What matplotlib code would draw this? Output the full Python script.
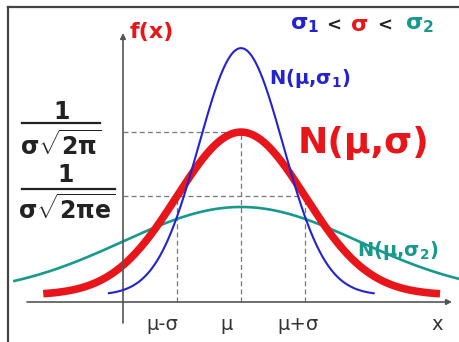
import numpy as np
import matplotlib
matplotlib.use("Agg")
import matplotlib.pyplot as plt
from matplotlib.lines import Line2D

plt.rcParams['font.family'] = ['DejaVu Sans']
plt.rcParams['mathtext.fontset'] = 'custom'
plt.rcParams['mathtext.rm'] = 'DejaVu Sans:bold'
plt.rcParams['mathtext.it'] = 'DejaVu Sans:bold'
plt.rcParams['mathtext.bf'] = 'DejaVu Sans:bold'

# ---- data ----
mu = 0.0
curve_names = [r"N(μ,$\sigma_1$)", "N(μ,σ)", r"N(μ,$\sigma_2$)"]
curve_sigmas = [0.66, 1.0, 1.85]          # σ1 < σ < σ2
curve_x_start = [-2.08, -3.09, -3.56]     # where each drawn curve begins
curve_x_end = [2.09, 3.11, 3.41]          # where each drawn curve ends
curve_offset = 0.017                      # curves sit slightly above the x axis
tick_labels = ["μ-σ", "μ", "μ+σ", "x"]

BLUE = "#2323d2"
RED = "#e8161a"
TEAL = "#17998c"
AXC = "#555555"

W, H = 459, 342
fig = plt.figure(figsize=(W / 100, H / 100), dpi=100)
ax = fig.add_axes([0, 0, 1, 1])
ax.axis("off")
# pixel mapping: x_px = 241 + 64*x ; y_px = 302 - 408.5*y
ax.set_xlim((0 - 241) / 64, (W - 241) / 64)
ax.set_ylim((302 - H) / 408.5, (302 - 0) / 408.5)


def fx(px):
    return px / W


def fy(py):
    return 1 - py / H


def pdf(x, s):
    return np.exp(-0.5 * ((x - mu) / s) ** 2) / (s * np.sqrt(2 * np.pi))


# frame
fig.add_artist(Line2D([fx(8), fx(8)], [fy(7), fy(342)], color="#444444", lw=1.6))
fig.add_artist(Line2D([fx(8), fx(459)], [fy(7), fy(7)], color="#444444", lw=1.6))

# axes with arrows
yaxis_x = (123 - 241) / 64
ax.annotate("", xy=(yaxis_x, (302 - 33) / 408.5), xytext=(yaxis_x, (302 - 323) / 408.5),
            arrowprops=dict(arrowstyle="-|>", color=AXC, lw=1.2, mutation_scale=8,
                            shrinkA=0, shrinkB=0))
ax.annotate("", xy=((452 - 241) / 64, 0), xytext=((27 - 241) / 64, 0),
            arrowprops=dict(arrowstyle="-|>", color=AXC, lw=1.2, mutation_scale=8,
                            shrinkA=0, shrinkB=0))

# curves
colors = [BLUE, RED, TEAL]
widths = [1.5, 5.5, 1.9]
zorders = [3, 2, 1]
for s, x0, x1, c, lw, z in zip(curve_sigmas, curve_x_start, curve_x_end, colors, widths, zorders):
    xs = np.linspace(x0, x1, 400)
    ax.plot(xs, curve_offset + pdf(xs, s), color=c, lw=lw, zorder=z,
            solid_capstyle="butt")

# dashed guide lines for the main curve
s = curve_sigmas[1]
peak = curve_offset + pdf(mu, s)
level = curve_offset + pdf(mu + s, s)
dash = dict(color="#777777", lw=0.9, ls=(0, (4, 2.5)), zorder=0)
ax.plot([yaxis_x, mu], [peak, peak], **dash)
ax.plot([yaxis_x, mu + s], [level, level], **dash)
ax.plot([mu, mu], [0, peak], **dash)
ax.plot([mu - s, mu - s], [0, level], **dash)
ax.plot([mu + s, mu + s], [0, level], **dash)

# texts
fig.text(fx(130), fy(32), "f(x)", color=RED, fontsize=16, fontweight="bold",
         ha="left", va="center")

top_y = fy(25)
fig.text(fx(290), top_y, r"$\sigma_1$", color=BLUE, fontsize=16, ha="left", va="center")
fig.text(fx(326), fy(26), "<", color="#222222", fontsize=13, fontweight="bold", ha="left", va="center")
fig.text(fx(351), top_y, "σ", color=RED, fontsize=16, fontweight="bold", ha="left", va="center")
fig.text(fx(377), fy(26), "<", color="#222222", fontsize=13, fontweight="bold", ha="left", va="center")
fig.text(fx(405), top_y, r"$\sigma_2$", color=TEAL, fontsize=16, ha="left", va="center")

fig.text(fx(269), fy(79), curve_names[0], color=BLUE, fontsize=14, fontweight="bold",
         ha="left", va="center")
fig.text(fx(298), fy(143), curve_names[1], color=RED, fontsize=26, fontweight="bold",
         ha="left", va="center")
fig.text(fx(357), fy(251), curve_names[2], color=TEAL, fontsize=14, fontweight="bold",
         ha="left", va="center")

# fraction labels on the y axis
fig.text(fx(62), fy(112), "1", fontsize=17, fontweight="bold", color="#222222", ha="center", va="center")
fig.add_artist(Line2D([fx(22), fx(100)], [fy(123), fy(123)], color="#222222", lw=1.6))
fig.text(fx(61), fy(145), r"$\sigma\sqrt{2\pi}$", fontsize=17, color="#222222", ha="center", va="center")

fig.text(fx(66), fy(175), "1", fontsize=17, fontweight="bold", color="#222222", ha="center", va="center")
fig.add_artist(Line2D([fx(22), fx(115)], [fy(189), fy(189)], color="#222222", lw=1.6))
fig.text(fx(67), fy(209), r"$\sigma\sqrt{2\pi e}$", fontsize=17, color="#222222", ha="center", va="center")

# x tick labels
tick_px = [162, 227, 298, 437]
for lab, px in zip(tick_labels, tick_px):
    fig.text(fx(px), fy(325), lab, fontsize=14, color="#333333", ha="center", va="center")

fig.savefig("out.png", dpi=100, facecolor="white")
